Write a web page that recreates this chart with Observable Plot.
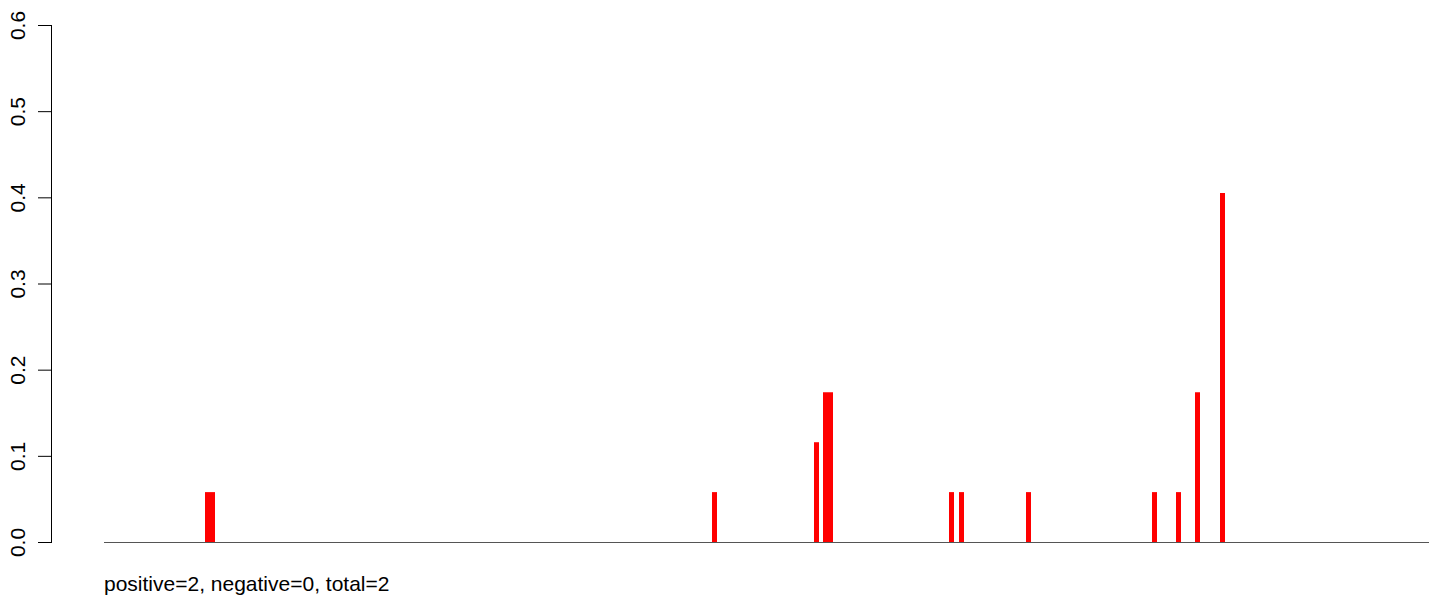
<!DOCTYPE html>
<html>
<head>
<meta charset="utf-8">
<script src="https://cdn.jsdelivr.net/npm/d3@7"></script>
<script src="https://cdn.jsdelivr.net/npm/@observablehq/plot@0.6"></script>
<style>
  html, body { margin: 0; padding: 0; background: #fff; }
  #chart svg { display: block; }
  #caption { font-family: "Liberation Sans", Arial, sans-serif; font-size: 21px; color: #000; margin-top: 12px; padding-left: 104px; line-height: 24px; white-space: nowrap; }
</style>
</head>
<body>
<div id="chart"></div>
<div id="caption"></div>
<script>
// positions along the sequence (arbitrary units) and the heights of the bars
const positions = [103, 108, 610, 712, 721, 726, 847, 857, 924, 1050, 1074, 1093, 1118];
const values    = [0.0579, 0.0579, 0.0579, 0.1158, 0.1737, 0.1737, 0.0579, 0.0579, 0.0579, 0.0579, 0.0579, 0.1737, 0.405];
const xDomain = [-53, 1325];
const seqRange = [0, 1325];
const yTicks = [0, 0.1, 0.2, 0.3, 0.4, 0.5, 0.6];
const captionText = "positive=2, negative=0, total=2";

const data = positions.map((p, i) => ({pos: p, value: values[i]}));

const chart = Plot.plot({
  width: 1429,
  height: 560,
  marginTop: 25,
  marginBottom: 18,
  marginLeft: 51,
  marginRight: 0,
  style: {fontFamily: "'Liberation Sans', Arial, sans-serif", fontSize: "21px", background: "#fff"},
  x: {domain: xDomain, axis: null},
  y: {domain: [0, 0.6]},
  marks: [
    Plot.frame({anchor: "left", stroke: "#000"}),
    Plot.axisY({ticks: yTicks, tickSize: 13, tickPadding: 14, tickRotate: -90, tickFormat: d3.format(".1f"), label: null, fontSize: 21, stroke: "#000"}),
    Plot.ruleY([0], {x1: seqRange[0], x2: seqRange[1], stroke: "#555", strokeWidth: 1}),
    Plot.ruleX(data, {x: "pos", y1: 0, y2: "value", stroke: "#ff0000", strokeWidth: 5})
  ]
});
document.getElementById("chart").appendChild(chart);
document.getElementById("caption").textContent = captionText;
</script>
</body>
</html>
